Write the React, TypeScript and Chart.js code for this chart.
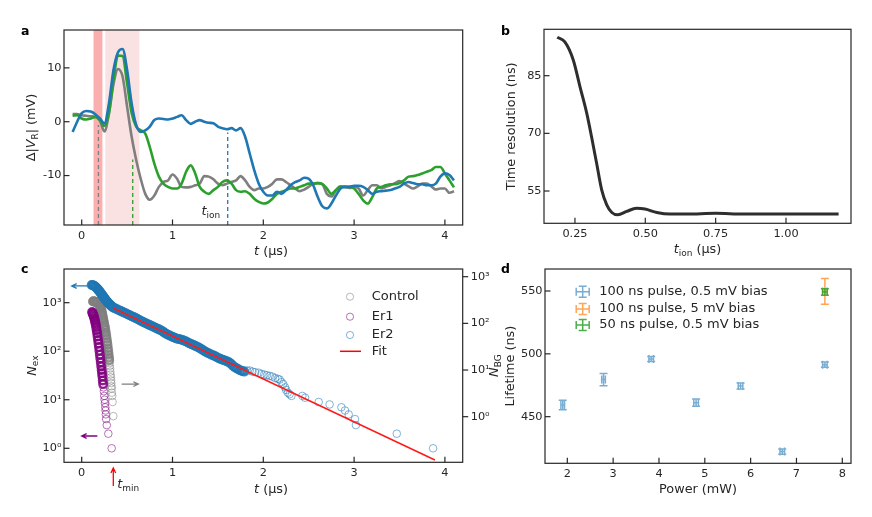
import { useEffect, useRef } from 'react'
import { Chart, registerables } from 'chart.js'

Chart.register(...registerables)

const FONT = "'DejaVu Sans', sans-serif"
const INK = '#262626'
const W = 872
const H = 517
const TICK_SIZE = 11.3
const LABEL_SIZE = 12.8
const TICK_LEN = 5.5

const BLUE = '#1f77b4'
const GREEN = '#2ca02c'
const GRAY = '#7f7f7f'

// ---------- a: resonator response
const tA = [
	-0.1, -0.05, 0, 0.05, 0.1, 0.15, 0.2, 0.25, 0.3, 0.35, 0.4, 0.45, 0.5, 0.55, 0.6, 0.65, 0.7, 0.75, 0.8, 0.85,
	0.9, 0.95, 1, 1.05, 1.1, 1.15, 1.2, 1.25, 1.3, 1.35, 1.4, 1.45, 1.5, 1.55, 1.6, 1.65, 1.7, 1.75, 1.8, 1.85,
	1.9, 1.95, 2, 2.05, 2.1, 2.15, 2.2, 2.25, 2.3, 2.35, 2.4, 2.45, 2.5, 2.55, 2.6, 2.65, 2.7, 2.75, 2.8, 2.85,
	2.9, 2.95, 3, 3.05, 3.1, 3.15, 3.2, 3.25, 3.3, 3.35, 3.4, 3.45, 3.5, 3.55, 3.6, 3.65, 3.7, 3.75, 3.8, 3.85,
	3.9, 3.95, 4, 4.05, 4.1
]
const vGray = [
	1.4, 1.4, 1.2, 1.1, 1.0, 0.9, 0.2, -1.8, 1.5, 7.0, 9.8, 8.4, 2.8, -2.8, -7.1, -10.6, -13.4, -14.5, -13.7, -12.1,
	-11.2, -10.9, -9.8, -10.6, -12.1, -12.2, -12.1, -11.8, -11.5, -10.1, -10.2, -10.7, -11.5, -11.8, -11.5, -11.2, -10.9, -10.1, -10.9, -12.1,
	-12.7, -12.4, -12.4, -12.1, -11.5, -10.7, -10.7, -11.2, -11.8, -12.4, -12.9, -12.6, -12.1, -11.5, -11.4, -11.6, -13.4, -13.9, -12.7, -12.0,
	-12.1, -12.3, -12.1, -12.4, -13.7, -12.7, -11.8, -11.8, -12.4, -12.1, -11.8, -11.4, -11.0, -11.5, -12.0, -12.4, -12.0, -11.5, -11.5, -12.0,
	-12.6, -12.4, -12.4, -13.2, -12.9
]
const vGreen = [
	1.1, 1.2, 0.6, 0.4, 0.6, 0.9, 0.3, -0.8, 1.6, 7.8, 12.3, 12.2, 7.1, 1.6, -0.9, -1.6, -2.2, -4.7, -7.8, -10.2,
	-11.5, -12.1, -12.4, -12.4, -11.5, -9.3, -8.1, -9.6, -12.1, -13.0, -13.4, -12.7, -12.1, -11.2, -10.9, -11.5, -12.7, -13.0, -12.9, -13.4,
	-14.3, -14.9, -15.2, -15.0, -14.3, -13.4, -13.0, -12.7, -12.4, -12.4, -12.1, -11.8, -11.5, -11.5, -11.4, -11.6, -12.4, -13.4, -12.7, -12.1,
	-12.1, -12.1, -12.4, -13.4, -14.6, -15.2, -14.0, -12.4, -12.1, -11.8, -11.6, -11.6, -11.4, -10.9, -10.2, -10.1, -9.9, -9.6, -9.3, -9.0,
	-8.4, -8.4, -9.6, -10.9, -12.2
]
const vBlue = [
	-1.9, 0.0, 1.6, 2.0, 1.9, 1.4, 0.6, -0.3, 3.4, 9.6, 12.9, 13.5, 9.6, 3.4, -0.6, -1.9, -1.6, -0.9, 0.3, 0.6,
	0.5, 0.4, 0.6, 0.9, 1.2, 0.3, -0.4, 0.0, 0.3, 0.0, -0.2, -0.3, -0.9, -1.2, -1.4, -1.2, -1.6, -1.2, -2.8, -5.9,
	-9.0, -11.5, -13.0, -13.7, -13.7, -13.0, -13.4, -12.7, -11.8, -11.2, -10.9, -10.4, -10.6, -11.8, -14.0, -15.7, -16.1, -15.2, -13.7, -12.4,
	-12.1, -12.1, -11.9, -11.9, -12.1, -12.7, -13.4, -13.0, -12.9, -12.8, -12.7, -12.4, -12.1, -11.5, -11.2, -11.4, -11.6, -11.6, -11.8, -11.8,
	-11.5, -10.2, -9.6, -9.9, -10.9
]
const aXTicks = [0, 1, 2, 3, 4]
const aYTicks = [-10, 0, 10]
const pulseBand = [0.13, 0.228]
const readBand = [0.26, 0.635]
const markT = [0.184, 0.562, 1.608]
const markTop = [-0.6, -7.0, -2.0]
const tIonLabel = [1.32, -17.33]

// ---------- b: time resolution vs t_ion
const bT = [0.187, 0.214, 0.244, 0.268, 0.292, 0.309, 0.327, 0.345, 0.363, 0.381, 0.402, 0.434, 0.469, 0.499, 0.541, 0.588, 0.647, 0.75, 0.85, 0.95, 1.05, 1.187]
const bRes = [95.0, 93.8, 89.1, 82.1, 75.2, 69.1, 62.2, 55.3, 51.4, 49.4, 48.8, 49.7, 50.5, 50.3, 49.4, 49.0, 49.0, 49.2, 49.0, 49.0, 49.0, 49.0]
const bXTicks = [0.25, 0.5, 0.75, 1.0]
const bYTicks = [55, 70, 85]

// ---------- c: excitation counts
const control = [
	[0.125, 1060], [0.13, 1070], [0.14, 1060], [0.15, 1045], [0.16, 1030], [0.17, 1010], [0.18, 985], [0.19, 940],
	[0.2, 880], [0.205, 830], [0.21, 780], [0.215, 720], [0.22, 660], [0.225, 600], [0.23, 540], [0.235, 480],
	[0.24, 430], [0.245, 385], [0.25, 345], [0.255, 310], [0.26, 275], [0.265, 240], [0.27, 210], [0.275, 180],
	[0.28, 155], [0.284, 135], [0.288, 115], [0.292, 100], [0.296, 86], [0.3, 74], [0.303, 65], [0.306, 57],
	[0.309, 50], [0.312, 44], [0.315, 38], [0.318, 33], [0.321, 29], [0.324, 25], [0.326, 22], [0.328, 19],
	[0.33, 17], [0.332, 14], [0.336, 12], [0.34, 9], [0.348, 4.6]
]
const er1 = [
	[0.115, 640], [0.12, 610], [0.125, 580], [0.13, 545], [0.135, 510], [0.14, 470], [0.145, 430], [0.15, 390],
	[0.155, 350], [0.16, 310], [0.165, 270], [0.17, 235], [0.175, 200], [0.18, 170], [0.185, 145], [0.19, 122],
	[0.195, 102], [0.2, 85], [0.205, 71], [0.21, 59], [0.215, 49], [0.22, 41], [0.224, 35], [0.228, 30],
	[0.232, 25], [0.236, 21], [0.24, 18], [0.244, 15], [0.248, 12], [0.252, 10], [0.256, 8.5], [0.26, 7],
	[0.263, 6], [0.266, 5], [0.269, 4], [0.276, 3], [0.293, 2], [0.33, 1]
]
const er2 = [
	[0.11, 2320], [0.12, 2300], [0.13, 2260], [0.14, 2200], [0.15, 2130], [0.16, 2050], [0.17, 1960], [0.18, 1860],
	[0.19, 1770], [0.2, 1670], [0.21, 1580], [0.22, 1490], [0.23, 1400], [0.24, 1320], [0.25, 1240], [0.26, 1170],
	[0.27, 1110], [0.28, 1050], [0.29, 1000], [0.3, 960], [0.31, 920], [0.32, 880], [0.33, 845], [0.34, 815],
	[0.35, 790], [0.37, 761], [0.39, 731], [0.41, 702], [0.43, 674], [0.45, 647], [0.47, 621], [0.49, 597],
	[0.51, 573], [0.53, 550], [0.55, 528], [0.57, 508], [0.59, 487], [0.61, 468], [0.63, 445], [0.65, 425],
	[0.67, 406], [0.69, 390], [0.71, 374], [0.73, 359], [0.75, 345], [0.77, 332], [0.79, 318], [0.81, 305],
	[0.83, 294], [0.85, 282], [0.87, 270], [0.89, 258], [0.91, 242], [0.93, 230], [0.95, 219], [0.97, 210],
	[0.99, 202], [1.01, 194], [1.03, 187], [1.05, 181], [1.07, 178], [1.09, 175], [1.11, 170], [1.13, 164],
	[1.15, 158], [1.17, 151], [1.19, 145], [1.21, 140], [1.23, 134], [1.25, 129], [1.27, 124], [1.29, 119],
	[1.31, 113], [1.33, 107], [1.35, 101], [1.37, 96], [1.39, 92], [1.41, 89], [1.43, 85], [1.45, 82],
	[1.47, 79], [1.49, 75], [1.51, 72], [1.53, 69], [1.55, 67], [1.57, 65], [1.59, 63], [1.61, 61],
	[1.63, 58], [1.65, 54], [1.67, 49], [1.69, 46], [1.71, 44], [1.73, 42], [1.75, 40], [1.77, 39],
	[1.79, 38], [1.82, 40], [1.85, 40], [1.88, 38], [1.91, 37], [1.95, 36], [1.98, 34], [2.01, 33],
	[2.04, 32], [2.07, 31], [2.1, 30], [2.13, 28], [2.16, 27], [2.18, 26], [2.2, 23], [2.22, 21],
	[2.24, 18], [2.25, 16], [2.27, 14], [2.29, 13], [2.31, 12], [2.43, 12], [2.46, 11], [2.61, 9],
	[2.73, 8], [2.86, 7], [2.9, 6], [2.94, 5], [3.01, 4], [3.02, 3], [3.47, 2], [3.87, 1]
]
const fitT = [0.35, 3.89]
const fitN = [766, 0.574]
const cXTicks = [0, 1, 2, 3, 4]
const cYTicks = [1, 10, 100, 1000]
const cLegend = ['Control', 'Er1', 'Er2', 'Fit']

// ---------- d: lifetime vs power
const dPower = [1.9, 2.79, 3.83, 4.81, 5.78, 6.69, 7.62]
const dLife = [459.3, 479.5, 495.9, 461.1, 474.4, 422.2, 491.4]
const dLifeErr = [3.7, 4.8, 2, 2.9, 2.4, 2.1, 2.1]
const dPowerErr = [0.04, 0.04, 0.05, 0.05, 0.05, 0.05, 0.05]
const d5mV = { power: 7.62, life: 549.7, lifeErr: 10.3, powerErr: 0.05 }
const d50ns = { power: 7.62, life: 549.2, lifeErr: 2.6, powerErr: 0.05 }
const dXTicks = [2, 3, 4, 5, 6, 7, 8]
const dYTicks = [450, 500, 550]
const dLegend = ['100 ns pulse, 0.5 mV bias', '100 ns pulse, 5 mV bias', '50 ns pulse, 0.5 mV bias']

const SUP: Record<number, string> = { 0: '⁰', 1: '¹', 2: '²', 3: '³' }
const pow10 = (v: number) => '10' + SUP[Math.round(Math.log10(v))]

type Box = { l: number; t: number; r: number; b: number }
type Part = [string, string?]

// текст с курсивом и нижними индексами, y — базовая линия
function rich(ctx: CanvasRenderingContext2D, parts: Part[], x: number, y: number, size: number, align = 'center', rot = false) {
	const fontOf = (st?: string) =>
		st === 'i' ? `italic ${size}px ${FONT}` : st === 's' ? `${size * 0.7}px ${FONT}` : `${size}px ${FONT}`
	ctx.save()
	ctx.translate(x, y)
	if (rot) ctx.rotate(-Math.PI / 2)
	ctx.fillStyle = INK
	ctx.textAlign = 'left'
	ctx.textBaseline = 'alphabetic'
	let w = 0
	for (const [t, st] of parts) {
		ctx.font = fontOf(st)
		w += ctx.measureText(t).width
	}
	let cx = align === 'center' ? -w / 2 : 0
	for (const [t, st] of parts) {
		ctx.font = fontOf(st)
		ctx.fillText(t, cx, st === 's' ? size * 0.22 : 0)
		cx += ctx.measureText(t).width
	}
	ctx.restore()
}

function letter(ctx: CanvasRenderingContext2D, s: string, x: number, y: number) {
	ctx.save()
	ctx.fillStyle = '#000'
	ctx.font = `bold 12.5px ${FONT}`
	ctx.textBaseline = 'alphabetic'
	ctx.fillText(s, x, y)
	ctx.restore()
}

function arrow(ctx: CanvasRenderingContext2D, x0: number, y0: number, x1: number, y1: number, color: string) {
	const a = Math.atan2(y1 - y0, x1 - x0)
	ctx.save()
	ctx.strokeStyle = color
	ctx.lineWidth = 1.3
	ctx.beginPath()
	ctx.moveTo(x0, y0)
	ctx.lineTo(x1, y1)
	ctx.moveTo(x1 - 5.5 * Math.cos(a - 0.45), y1 - 5.5 * Math.sin(a - 0.45))
	ctx.lineTo(x1, y1)
	ctx.lineTo(x1 - 5.5 * Math.cos(a + 0.45), y1 - 5.5 * Math.sin(a + 0.45))
	ctx.stroke()
	ctx.restore()
}

function axis(type: string, position: string, min: number, max: number, ticks: number[], fmt: (v: number) => string, size: number, pad: number) {
	return {
		type,
		position,
		min,
		max,
		grid: { display: false, drawTicks: false },
		border: { display: false },
		ticks: {
			autoSkip: false,
			maxRotation: 0,
			padding: pad,
			color: INK,
			font: { family: FONT, size: TICK_SIZE },
			callback: (v: number) => fmt(Number(v))
		},
		afterBuildTicks: (s: any) => {
			s.ticks = ticks.map((v) => ({ value: v }))
		},
		afterFit: (s: any) => {
			if (position === 'bottom') s.height = size
			else s.width = size
		}
	}
}

function baseOptions(box: Box, wl: number, hb: number, wr: number, scales: any) {
	return {
		animation: false,
		responsive: false,
		events: [],
		layout: { padding: { left: box.l - wl, top: box.t, right: W - box.r - wr, bottom: H - box.b - hb } },
		plugins: { legend: { display: false }, tooltip: { enabled: false } },
		scales
	}
}

// рамка вокруг области графика и засечки внутрь (или наружу)
function framePlugin(inward: string[], outward: string[] = []) {
	return {
		id: 'frame',
		afterDraw(chart: any) {
			const { ctx, chartArea: a } = chart
			ctx.save()
			ctx.strokeStyle = INK
			ctx.lineWidth = 1.2
			ctx.strokeRect(a.left, a.top, a.right - a.left, a.bottom - a.top)
			for (const id of [...inward, ...outward]) {
				const s = chart.scales[id]
				const out = outward.includes(id)
				for (const tk of s.ticks) {
					const p = s.getPixelForValue(tk.value)
					ctx.beginPath()
					if (s.isHorizontal()) {
						ctx.moveTo(p, a.bottom)
						ctx.lineTo(p, a.bottom - TICK_LEN)
					} else if (s.position === 'left') {
						ctx.moveTo(a.left, p)
						ctx.lineTo(a.left + TICK_LEN, p)
					} else {
						ctx.moveTo(a.right, p)
						ctx.lineTo(a.right + (out ? TICK_LEN : -TICK_LEN), p)
					}
					ctx.stroke()
				}
			}
			ctx.restore()
		}
	}
}

function configA(): any {
	const box = { l: 64, t: 30, r: 462.7, b: 225 }
	const yMin = -19.18
	const trace = (ys: number[], color: string, order: number) => ({
		data: tA.map((t, i) => ({ x: t, y: ys[i] })),
		borderColor: color,
		borderWidth: 2.6,
		pointRadius: 0,
		cubicInterpolationMode: 'monotone',
		order
	})
	const markColors = [GRAY, GREEN, BLUE]
	const bands = {
		id: 'bands',
		beforeDatasetsDraw(chart: any) {
			const { ctx, chartArea: a, scales } = chart
			ctx.save()
			const fill = (r: number[], c: string) => {
				const x0 = scales.x.getPixelForValue(r[0])
				const x1 = scales.x.getPixelForValue(r[1])
				ctx.fillStyle = c
				ctx.fillRect(x0, a.top, x1 - x0, a.bottom - a.top)
			}
			fill(readBand, 'rgba(240,150,150,0.28)')
			fill(pulseBand, 'rgba(248,120,120,0.6)')
			ctx.restore()
		}
	}
	const deco = {
		id: 'decoA',
		afterDraw(chart: any) {
			const { ctx, chartArea: a, scales } = chart
			letter(ctx, 'a', 21, 35)
			rich(ctx, [['t', 'i'], [' (µs)']], 271, a.bottom + 29.5, LABEL_SIZE)
			rich(ctx, [['Δ|'], ['V', 'i'], ['R', 's'], ['| (mV)']], a.left - 29, (a.top + a.bottom) / 2, LABEL_SIZE, 'center', true)
			rich(ctx, [['t', 'i'], ['ion', 's']], scales.x.getPixelForValue(tIonLabel[0]), scales.y.getPixelForValue(tIonLabel[1]), LABEL_SIZE, 'left')
		}
	}
	return {
		type: 'line',
		data: {
			datasets: [
				trace(vBlue, BLUE, 0),
				trace(vGreen, GREEN, 1),
				trace(vGray, GRAY, 2),
				...markT.map((t, i) => ({
					data: [{ x: t, y: yMin }, { x: t, y: markTop[i] }],
					borderColor: markColors[i],
					borderWidth: 1.3,
					borderDash: [4, 3],
					pointRadius: 0,
					order: 3
				}))
			]
		},
		options: baseOptions(box, 40, 20, 0, {
			x: axis('linear', 'bottom', -0.195, 4.196, aXTicks, (v) => String(v), 20, 4),
			y: axis('linear', 'left', yMin, 17.03, aYTicks, (v) => String(v), 40, 2.5)
		}),
		plugins: [bands, framePlugin(['x', 'y']), deco]
	}
}

function configB(): any {
	const box = { l: 544, t: 29.3, r: 851, b: 223.3 }
	const deco = {
		id: 'decoB',
		afterDraw(chart: any) {
			const { ctx, chartArea: a } = chart
			letter(ctx, 'b', 501, 35)
			rich(ctx, [['t', 'i'], ['ion', 's'], [' (µs)']], (a.left + a.right) / 2, a.bottom + 29.5, LABEL_SIZE)
			rich(ctx, [['Time resolution (ns)']], a.left - 29.5, (a.top + a.bottom) / 2, LABEL_SIZE, 'center', true)
		}
	}
	return {
		type: 'line',
		data: {
			datasets: [
				{
					data: bT.map((t, i) => ({ x: t, y: bRes[i] })),
					borderColor: '#2e2e2e',
					borderWidth: 3,
					pointRadius: 0,
					cubicInterpolationMode: 'monotone'
				}
			]
		},
		options: baseOptions(box, 40, 20, 0, {
			x: axis('linear', 'bottom', 0.14, 1.231, bXTicks, (v) => v.toFixed(2), 20, 4),
			y: axis('linear', 'left', 46.6, 97.07, bYTicks, (v) => String(v), 40, 2.5)
		}),
		plugins: [framePlugin(['x', 'y']), deco]
	}
}

function configC(): any {
	const box = { l: 64, t: 269, r: 462.7, b: 462.3 }
	const rgb = ['127,127,127', '128,0,128', '31,119,180']
	const legendColors = rgb.map((c) => `rgba(${c},0.55)`)
	// плотные участки (много перекрывающихся кружков) рисуются толще
	const circles = (pts: number[][], c: string, dense: (p: any) => boolean, order: number) => ({
		data: pts.map(([t, n]) => ({ x: t, y: n })),
		pointStyle: 'circle',
		pointRadius: 3.8,
		borderWidth: (ctx: any) => (ctx.raw && dense(ctx.raw) ? 2.4 : 1),
		borderColor: (ctx: any) => (ctx.raw && dense(ctx.raw) ? `rgba(${c},0.85)` : `rgba(${c},0.55)`),
		backgroundColor: 'rgba(0,0,0,0)',
		order
	})
	const deco = {
		id: 'decoC',
		afterDraw(chart: any) {
			const { ctx, chartArea: a, scales } = chart
			const X = (v: number) => scales.x.getPixelForValue(v)
			const Y = (v: number) => scales.y.getPixelForValue(v)
			letter(ctx, 'c', 21, 273)
			rich(ctx, [['t', 'i'], [' (µs)']], 271, a.bottom + 30.5, LABEL_SIZE)
			rich(ctx, [['N', 'i'], ['ex', 's']], a.left - 28.5, (a.top + a.bottom) / 2, LABEL_SIZE, 'center', true)
			rich(ctx, [['N', 'i'], ['BG', 's']], a.right + 35, (a.top + a.bottom) / 2, LABEL_SIZE, 'center', true)
			arrow(ctx, X(0.062), Y(2210), X(-0.11), Y(2210), BLUE)
			arrow(ctx, X(0.44), Y(21), X(0.623), Y(21), GRAY)
			arrow(ctx, X(0.172), Y(1.79), X(0), Y(1.79), 'purple')
			arrow(ctx, X(0.348), Y(0.167), X(0.348), Y(0.393), 'red')
			rich(ctx, [['t', 'i'], ['min', 's']], X(0.392), Y(0.152), LABEL_SIZE, 'left')
			// легенда
			const rows = [27.7, 47.7, 66, 82.3]
			ctx.save()
			ctx.font = `13px ${FONT}`
			ctx.fillStyle = INK
			ctx.textBaseline = 'middle'
			cLegend.forEach((s, i) => {
				const y = a.top + rows[i]
				if (i < 3) {
					ctx.strokeStyle = legendColors[i]
					ctx.lineWidth = 1
					ctx.beginPath()
					ctx.arc(a.left + 286, y, 3.6, 0, Math.PI * 2)
					ctx.stroke()
				} else {
					ctx.strokeStyle = 'red'
					ctx.lineWidth = 1.5
					ctx.beginPath()
					ctx.moveTo(a.left + 276, y)
					ctx.lineTo(a.left + 297, y)
					ctx.stroke()
				}
				ctx.fillText(s, a.left + 307.7, y)
			})
			ctx.restore()
		}
	}
	return {
		type: 'scatter',
		data: {
			datasets: [
				circles(control, rgb[0], (p) => p.y > 60, 3),
				circles(er1, rgb[1], (p) => p.y > 20, 2),
				circles(er2, rgb[2], (p) => p.x < 1.8, 1),
				{
					data: fitT.map((t, i) => ({ x: t, y: fitN[i] })),
					showLine: true,
					borderColor: '#ff1a1a',
					borderWidth: 1.5,
					pointRadius: 0,
					order: 0
				}
			]
		},
		options: baseOptions(box, 40, 20, 32, {
			x: axis('linear', 'bottom', -0.195, 4.196, cXTicks, (v) => String(v), 20, 4),
			y: axis('logarithmic', 'left', 0.5145, 4943, cYTicks, pow10, 40, 2.5),
			y1: axis('logarithmic', 'right', 0.1054, 1462, cYTicks, pow10, 32, 8)
		}),
		plugins: [framePlugin(['x', 'y'], ['y1']), deco]
	}
}

function configD(): any {
	const box = { l: 545, t: 269, r: 851, b: 463.3 }
	const colors = ['rgba(31,119,180,0.6)', 'rgba(255,127,14,0.7)', 'rgba(44,160,44,0.85)']
	const CAP = 4
	const series = (px: number[], py: number[], ex: number[], ey: number[], color: string) => ({
		data: px.map((p, i) => ({ x: p, y: py[i] })),
		xErr: ex,
		yErr: ey,
		borderColor: color,
		pointRadius: 0
	})
	const cross = (ctx: any, x: number, y: number, x0: number, x1: number, y0: number, y1: number) => {
		ctx.beginPath()
		ctx.moveTo(x, y0)
		ctx.lineTo(x, y1)
		ctx.moveTo(x - CAP, y0)
		ctx.lineTo(x + CAP, y0)
		ctx.moveTo(x - CAP, y1)
		ctx.lineTo(x + CAP, y1)
		ctx.moveTo(x0, y)
		ctx.lineTo(x1, y)
		ctx.moveTo(x0, y - CAP)
		ctx.lineTo(x0, y + CAP)
		ctx.moveTo(x1, y - CAP)
		ctx.lineTo(x1, y + CAP)
		ctx.stroke()
	}
	const errBars = {
		id: 'errBars',
		afterDatasetsDraw(chart: any) {
			const { ctx, scales } = chart
			const X = (v: number) => scales.x.getPixelForValue(v)
			const Y = (v: number) => scales.y.getPixelForValue(v)
			chart.data.datasets.forEach((ds: any) => {
				ctx.save()
				ctx.strokeStyle = ds.borderColor
				ctx.lineWidth = 1.5
				ds.data.forEach((p: any, i: number) => {
					cross(ctx, X(p.x), Y(p.y), X(p.x - ds.xErr[i]), X(p.x + ds.xErr[i]), Y(p.y - ds.yErr[i]), Y(p.y + ds.yErr[i]))
				})
				ctx.restore()
			})
		}
	}
	const deco = {
		id: 'decoD',
		afterDraw(chart: any) {
			const { ctx, chartArea: a } = chart
			letter(ctx, 'd', 501, 273)
			rich(ctx, [['Power (mW)']], (a.left + a.right) / 2, a.bottom + 30, LABEL_SIZE)
			rich(ctx, [['Lifetime (ns)']], a.left - 31, (a.top + a.bottom) / 2, LABEL_SIZE, 'center', true)
			const rows = [22.7, 40, 56]
			ctx.save()
			ctx.font = `13px ${FONT}`
			ctx.textBaseline = 'middle'
			dLegend.forEach((s, i) => {
				const x = a.left + 37.7
				const y = a.top + rows[i]
				ctx.strokeStyle = colors[i]
				ctx.lineWidth = 1.5
				cross(ctx, x, y, x - 6.5, x + 6.5, y + 5.5, y - 5.5)
				ctx.fillStyle = INK
				ctx.fillText(s, a.left + 54.3, y)
			})
			ctx.restore()
		}
	}
	return {
		type: 'scatter',
		data: {
			datasets: [
				series(dPower, dLife, dPowerErr, dLifeErr, colors[0]),
				series([d5mV.power], [d5mV.life], [d5mV.powerErr], [d5mV.lifeErr], colors[1]),
				series([d50ns.power], [d50ns.life], [d50ns.powerErr], [d50ns.lifeErr], colors[2])
			]
		},
		options: baseOptions(box, 40, 20, 0, {
			x: axis('linear', 'bottom', 1.513, 8.19, dXTicks, (v) => String(v), 20, 4),
			y: axis('linear', 'left', 412.9, 567.5, dYTicks, (v) => String(v), 40, 2.5)
		}),
		plugins: [errBars, framePlugin(['x', 'y']), deco]
	}
}

function Panel({ make }: { make: () => any }) {
	const canvasRef = useRef<HTMLCanvasElement | null>(null)

	useEffect(() => {
		if (!canvasRef.current) return
		const chart = new Chart(canvasRef.current, make())
		return () => chart.destroy()
	}, [make])

	return (
		<canvas
			ref={canvasRef}
			width={W}
			height={H}
			style={{ position: 'absolute', left: 0, top: 0 }}
		/>
	)
}

export default function App() {
	return (
		<div style={{ position: 'fixed', left: 0, top: 0, width: W, height: H, background: '#fff' }}>
			<Panel make={configA} />
			<Panel make={configB} />
			<Panel make={configC} />
			<Panel make={configD} />
		</div>
	)
}
